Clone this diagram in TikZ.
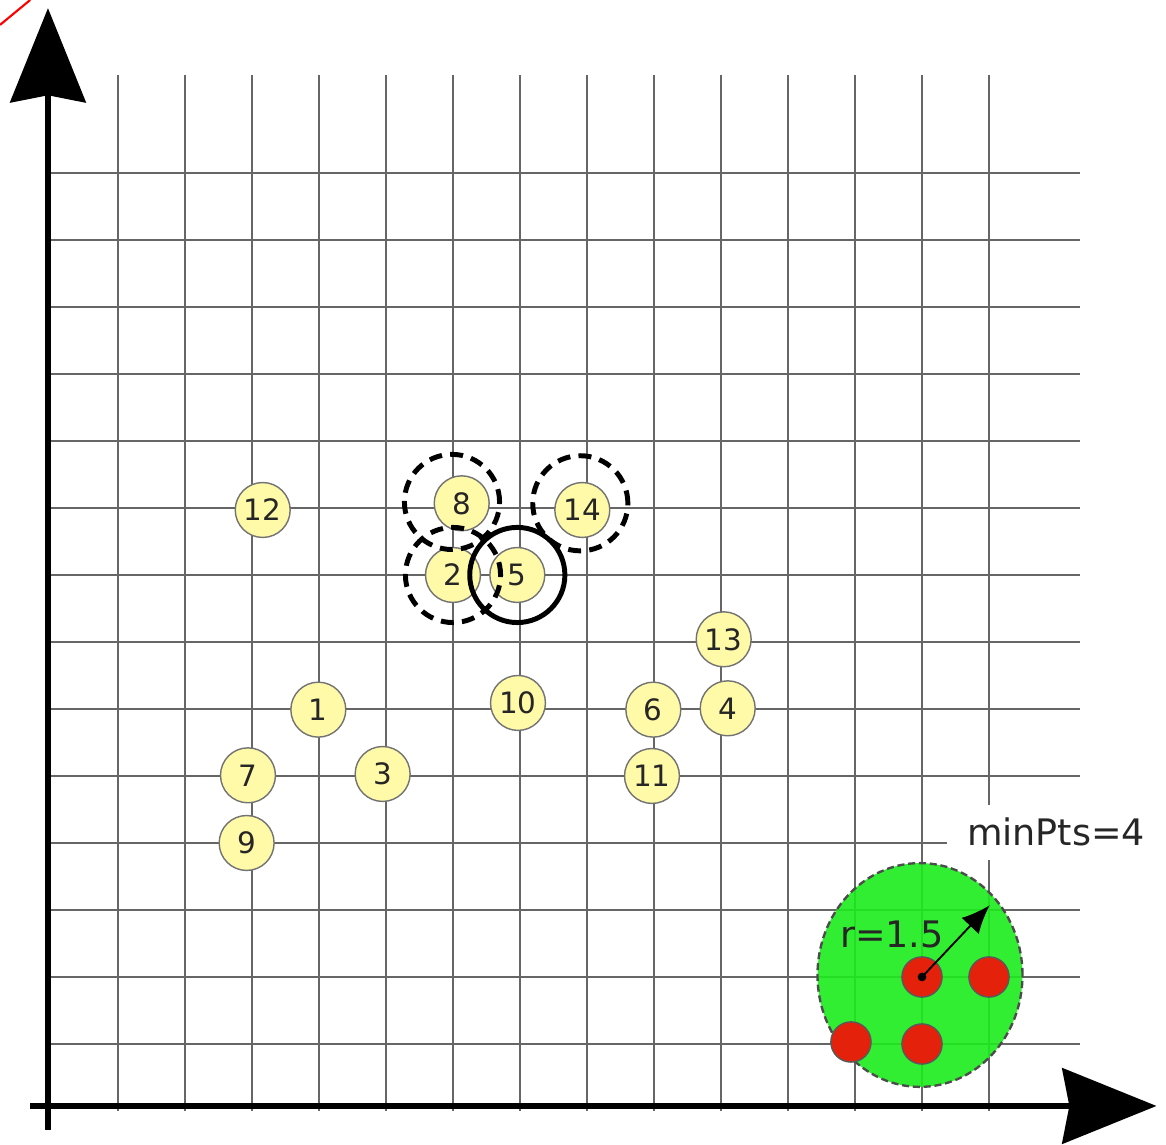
\documentclass[tikz,border=0pt]{standalone}
\usepackage{fontspec}
\setmainfont{DejaVu Sans}
\usetikzlibrary{arrows.meta,shapes.geometric}
\definecolor{ptyellow}{RGB}{255,250,168}
\definecolor{ballgreen}{RGB}{28,236,28}
\definecolor{corered}{RGB}{228,34,12}
\begin{document}
\begin{tikzpicture}[x=1cm, y=1cm,
  gridline/.style={black!60, line width=0.9pt},
  axis/.style={line width=2.5pt, -{Stealth[length=40pt, width=32pt, inset=3pt]}},
  pt/.style={circle, draw=black!55, line width=0.6pt, fill=ptyellow, minimum size=0.82cm, inner sep=0pt, text=black!85, font=\fontsize{12.5}{12}\selectfont},
  core/.style={circle, draw=black!65, line width=0.6pt, fill=corered, minimum size=0.6cm, inner sep=0pt},
  ring/.style={circle, draw, line width=2.1pt, minimum size=1.42cm, inner sep=0pt},
  dashring/.style={ring, dash pattern=on 5.5pt off 3.5pt},
  biglabel/.style={text=black!85, font=\fontsize{15.5}{16}\selectfont}]
  \useasboundingbox (-0.761,-0.507) rectangle (16.642,16.582);
  \draw[red, line width=0.9pt] (-0.761,16.21) -- (-0.31,16.582);
  % grid
  \foreach \i in {1,...,14} {
    \draw[gridline] (\i,0) -- (\i,15.46);
    \draw[gridline] (0,\i) -- (15.36,\i);
  }
  % axes
  \coordinate (xs) at (-0.31,0.075);
  \coordinate (xe) at (16.5,0.075);
  \coordinate (ys) at (-0.045,-0.28);
  \coordinate (ye) at (-0.045,16.46);
  \draw[axis] (xs) -- (xe);
  \draw[axis] (ys) -- (ye);
  % eps-neighbourhood
  \node[ellipse, minimum width=3.06cm, minimum height=3.34cm, inner sep=0pt, fill=ballgreen, fill opacity=0.9, draw=black!70, line width=1pt, dash pattern=on 3pt off 1.6pt] (ball) at (12.97,2.03) {};
  \node[fill=white, inner xsep=0.3cm, inner ysep=0.2cm, biglabel] (minpts) at (15.0,4.16) {minPts=4};
  \foreach \n/\x/\y in {c1/13/2, c2/14/2, c3/11.94/1.03, c4/13/1}
    \node[core] (\n) at (\x,\y) {};
  \node[biglabel] (rlab) at (12.55,2.63) {r=1.5};
  \coordinate (rim) at (14.01,3.07);
  \fill (c1) circle (0.065);
  \draw[line width=0.8pt, -{Latex[length=12pt, width=10pt]}] (c1.center) -- (rim);
  % points
  \foreach \n/\x/\y in {1/3.99/5.99, 2/6.0/8.0, 3/4.95/5.03, 4/10.1/6.01, 5/6.96/8.0, 6/8.99/5.99, 7/2.94/5.01,
                        8/6.13/9.07, 9/2.92/4.0, 10/6.97/6.09, 11/8.97/5.0, 12/3.16/8.97, 13/10.04/7.04, 14/7.93/8.97}
    \node[pt] (p\n) at (\x,\y) {\n};
  % neighbourhoods of point 5
  \node[dashring] (r8) at (5.985,9.09) {};
  \node[dashring] (r14) at (7.9,9.07) {};
  \node[dashring] (r2) at (p2) {};
  \node[ring] (r5) at (p5) {};
\end{tikzpicture}
\end{document}
